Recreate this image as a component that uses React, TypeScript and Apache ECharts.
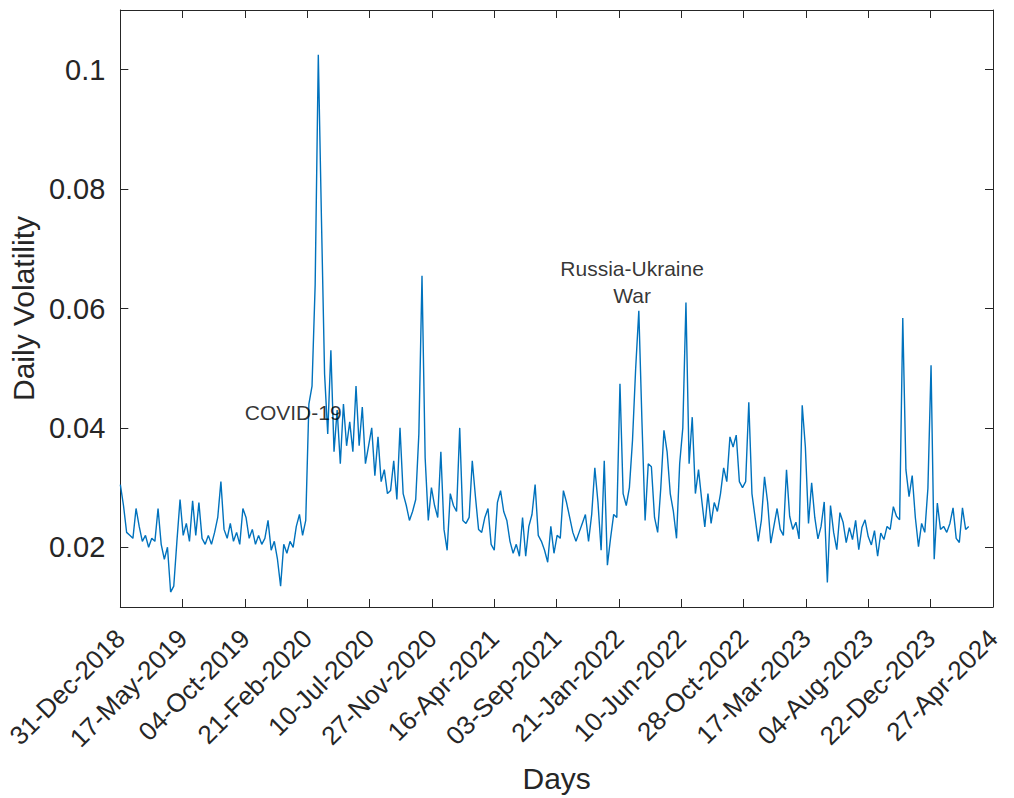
import React, { useEffect, useRef } from "react";
import * as echarts from "echarts";

// Daily volatility, sampled every 7 days starting 31-Dec-2018
const startLabel = "31-Dec-2018";
const stepDays = 7;
const totalDays = 1944; // 31-Dec-2018 .. 27-Apr-2024

const volatility = [
  0.0305, 0.027, 0.0225, 0.022, 0.0215, 0.0265, 0.0235, 0.021, 0.022, 0.02,
  0.0215, 0.021, 0.0265, 0.0205, 0.018, 0.02, 0.0125, 0.0135, 0.021, 0.028,
  0.022, 0.024, 0.021, 0.0278, 0.022, 0.0275, 0.0215, 0.0205, 0.022, 0.0205,
  0.0225, 0.025, 0.031, 0.023, 0.0215, 0.024, 0.021, 0.0225, 0.0205, 0.0265,
  0.025, 0.0215, 0.023, 0.0205, 0.022, 0.0205, 0.0215, 0.0245, 0.0195, 0.021,
  0.018, 0.0135, 0.0205, 0.019, 0.021, 0.02, 0.0235, 0.0255, 0.022, 0.0245,
  0.044, 0.047, 0.064, 0.1025, 0.075, 0.049, 0.039, 0.053, 0.036, 0.043,
  0.034, 0.044, 0.037, 0.041, 0.036, 0.047, 0.037, 0.0435, 0.034, 0.037,
  0.04, 0.032, 0.0385, 0.031, 0.033, 0.029, 0.0295, 0.0345, 0.028, 0.04,
  0.029, 0.027, 0.0245, 0.026, 0.028, 0.039, 0.0655, 0.035, 0.0245, 0.03,
  0.027, 0.025, 0.036, 0.023, 0.0195, 0.029, 0.027, 0.026, 0.04, 0.0245,
  0.024, 0.025, 0.0345, 0.0285, 0.023, 0.0225, 0.025, 0.0265, 0.0205, 0.0195,
  0.0275, 0.0295, 0.026, 0.0245, 0.021, 0.019, 0.0205, 0.0185, 0.025, 0.0185,
  0.0235, 0.0255, 0.0305, 0.022, 0.021, 0.0195, 0.0175, 0.0235, 0.019, 0.022,
  0.0215, 0.0295, 0.0275, 0.025, 0.0225, 0.021, 0.0225, 0.024, 0.0255, 0.021,
  0.0255, 0.0333, 0.0275, 0.0195, 0.0345, 0.017, 0.0215, 0.0255, 0.025, 0.0474,
  0.029, 0.027, 0.03, 0.038, 0.05, 0.0596, 0.041, 0.0245, 0.034, 0.0335,
  0.025, 0.0225, 0.03, 0.0396, 0.036, 0.029, 0.026, 0.0215, 0.034, 0.04,
  0.061, 0.034, 0.0418, 0.029, 0.033, 0.028, 0.0234, 0.029, 0.024, 0.0275,
  0.026, 0.029, 0.0333, 0.031, 0.0385, 0.0368, 0.0388, 0.031, 0.03, 0.031,
  0.0443, 0.029, 0.025, 0.021, 0.0245, 0.0318, 0.0275, 0.0207, 0.0236, 0.0265,
  0.023, 0.022, 0.033, 0.0252, 0.023, 0.0242, 0.0214, 0.0438, 0.0368, 0.024,
  0.0308, 0.025, 0.0214, 0.0235, 0.0276, 0.0141, 0.027, 0.0225, 0.0196, 0.0258,
  0.0242, 0.0208, 0.0233, 0.0213, 0.0245, 0.0196, 0.0233, 0.0246, 0.0218, 0.0204,
  0.0228, 0.0185, 0.0224, 0.0213, 0.0235, 0.023, 0.0268, 0.0252, 0.0246, 0.0584,
  0.033, 0.0285, 0.032, 0.025, 0.0201, 0.024, 0.0225, 0.0299, 0.0505, 0.018,
  0.0274, 0.023, 0.0235, 0.0225, 0.024, 0.0266, 0.0215, 0.0208, 0.0266, 0.023,
  0.0235,
];

const xTickLabels = [
  startLabel, "17-May-2019", "04-Oct-2019", "21-Feb-2020", "10-Jul-2020",
  "27-Nov-2020", "16-Apr-2021", "03-Sep-2021", "21-Jan-2022", "10-Jun-2022",
  "28-Oct-2022", "17-Mar-2023", "04-Aug-2023", "22-Dec-2023", "27-Apr-2024",
];
const yTicks = [0.02, 0.04, 0.06, 0.08, 0.1];

const annotations = [
  { text: "COVID-19", day: 385, value: 0.0425 },
  { text: "Russia-Ukraine\nWar", day: 1140, value: 0.0645 },
];

const FONT = "'Liberation Sans', Arial, Helvetica, sans-serif";
const AXIS_COLOR = "#262626";

export default function App() {
  const ref = useRef<HTMLDivElement>(null);
  useEffect(() => {
    if (!ref.current) return;
    const chart = echarts.init(ref.current, undefined, { renderer: "svg" });
    const n = xTickLabels.length - 1;
    const xTickVals = xTickLabels.map((_, i) => (i * totalDays) / n);
    const data = volatility.map((v, i) => [i * stepDays, v]);
    const axisLineStyle = { color: AXIS_COLOR, width: 1 };
    const common = {
      axisLine: { show: true, onZero: false, lineStyle: axisLineStyle },
      splitLine: { show: false },
    };
    chart.setOption({
      animation: false,
      backgroundColor: "#ffffff",
      grid: { left: 116, right: 21, top: 10, bottom: 191, containLabel: false },
      xAxis: [
        {
          ...common,
          type: "value",
          min: 0,
          max: totalDays,
          name: "Days",
          nameLocation: "middle",
          nameGap: 156,
          nameTextStyle: { fontFamily: FONT, fontSize: 30, color: AXIS_COLOR },
          axisTick: { show: true, inside: true, length: 8, customValues: xTickVals, lineStyle: axisLineStyle },
          axisLabel: {
            customValues: xTickVals,
            rotate: 45,
            margin: 27,
            fontFamily: FONT,
            fontSize: 26,
            color: AXIS_COLOR,
            formatter: (v: number) => xTickLabels[Math.round((v * n) / totalDays)],
          },
        },
        {
          ...common,
          type: "value",
          position: "top",
          min: 0,
          max: totalDays,
          axisTick: { show: true, inside: true, length: 8, customValues: xTickVals, lineStyle: axisLineStyle },
          axisLabel: { show: false },
        },
      ],
      yAxis: [
        {
          ...common,
          type: "value",
          min: 0.01,
          max: 0.11,
          name: "Daily Volatility",
          nameLocation: "middle",
          nameGap: 80,
          nameTextStyle: { fontFamily: FONT, fontSize: 30, color: AXIS_COLOR },
          axisTick: { show: true, inside: true, length: 8, customValues: yTicks, lineStyle: axisLineStyle },
          axisLabel: {
            customValues: yTicks,
            margin: 15,
            fontFamily: FONT,
            fontSize: 29,
            color: AXIS_COLOR,
            formatter: (v: number) => String(parseFloat(v.toFixed(3))),
          },
        },
        {
          ...common,
          type: "value",
          position: "right",
          min: 0.01,
          max: 0.11,
          axisTick: { show: true, inside: true, length: 8, customValues: yTicks, lineStyle: axisLineStyle },
          axisLabel: { show: false },
        },
      ],
      series: [
        {
          type: "line",
          data,
          showSymbol: false,
          symbol: "none",
          lineStyle: { color: "#0072BD", width: 1.4 },
          z: 3,
        },
        {
          type: "scatter",
          data: annotations.map((a) => [a.day, a.value, a.text]),
          symbolSize: 0,
          silent: true,
          label: {
            show: true,
            position: "inside",
            formatter: (p: any) => p.value[2],
            fontFamily: FONT,
            fontSize: 21,
            lineHeight: 27,
            color: "#000000",
            align: "center",
          },
          z: 4,
        },
      ],
    });
    return () => chart.dispose();
  }, []);
  return (
    <div
      ref={ref}
      style={{ position: "fixed", left: 0, top: 0, width: 1014, height: 798, background: "#fff" }}
    />
  );
}
